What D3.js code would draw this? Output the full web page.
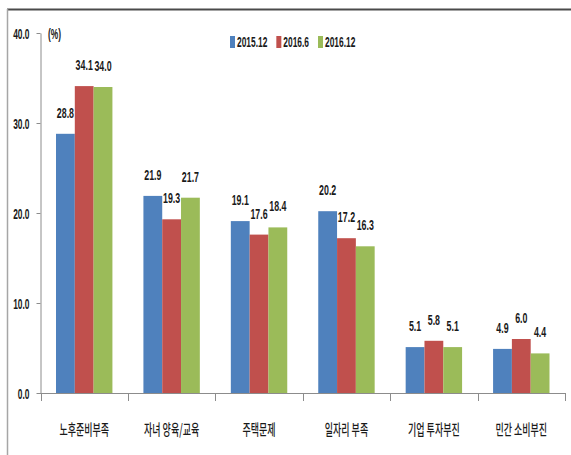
<!DOCTYPE html>
<html>
<head>
<meta charset="utf-8">
<script src="https://cdn.jsdelivr.net/npm/d3@7"></script>
<style>
html,body{margin:0;padding:0;background:#fff;}
svg{display:block;}
</style>
</head>
<body>
<svg id="chart" width="571" height="455"></svg>
<script>
const categories = ["노후준비부족", "자녀 양육/교육", "주택문제", "일자리 부족", "기업 투자부진", "민간 소비부진"];
const seriesNames = ["2015.12", "2016.6", "2016.12"];
const s2015_12 = [28.8, 21.9, 19.1, 20.2, 5.1, 4.9];
const s2016_6  = [34.1, 19.3, 17.6, 17.2, 5.8, 6.0];
const s2016_12 = [34.0, 21.7, 18.4, 16.3, 5.1, 4.4];
const yTicks = [0, 10, 20, 30, 40];
const yTickLabels = ["0.0", "10.0", "20.0", "30.0", "40.0"];
const unitLabel = "(%)";

(function () {
const seriesValues = [s2015_12, s2016_6, s2016_12];
const colors = ["#4F81BD", "#C0504D", "#9BBB59"];

const svg = d3.select("#chart");
const numFont = "'Liberation Sans', Arial, sans-serif";
const krFont = "'Noto Sans CJK KR', sans-serif";
const SX = 0.6;

// frame
svg.append("line").attr("x1", 7).attr("x2", 571).attr("y1", 9.5).attr("y2", 9.5)
  .attr("stroke", "#4a4a4a").attr("stroke-width", 2);
svg.append("line").attr("x1", 7.5).attr("x2", 7.5).attr("y1", 9).attr("y2", 455)
  .attr("stroke", "#a6a6a6").attr("stroke-width", 1.5);

const mLeft = 40.5, mRight = 565, mTop = 33, mBottom = 393;
const y = d3.scaleLinear().domain([0, 40]).range([mBottom, mTop]);
const x0 = d3.scaleBand().domain(categories).range([mLeft, mRight]).paddingInner(0).paddingOuter(0);
const pad = 15.5;
const x1 = d3.scaleBand().domain(seriesNames).range([pad, x0.bandwidth() - pad]).padding(0);

function scaledText(sel, x, yy, txt, opts) {
  return sel.append("text")
    .attr("transform", `translate(${x},${yy}) scale(${opts.sx || SX},1)`)
    .attr("font-family", opts.font || numFont)
    .attr("font-size", opts.size || 14)
    .attr("font-weight", opts.weight || "bold")
    .attr("fill", opts.fill || "#1a1a1a")
    .attr("text-anchor", opts.anchor || "middle")
    .text(txt);
}

// bars
const groups = svg.append("g").selectAll("g").data(categories).join("g")
  .attr("transform", d => `translate(${x0(d)},0)`);

groups.selectAll("rect")
  .data((c, ci) => seriesNames.map((s, si) => ({ s, si, v: seriesValues[si][ci] })))
  .join("rect")
  .attr("x", d => x1(d.s))
  .attr("width", x1.bandwidth())
  .attr("y", d => y(d.v))
  .attr("height", d => y(0) - y(d.v))
  .attr("fill", d => colors[d.si]);

// value labels
groups.each(function (c, ci) {
  const g = d3.select(this);
  seriesNames.forEach((s, si) => {
    const v = seriesValues[si][ci];
    scaledText(g, x1(s) + x1.bandwidth() / 2, y(v) - 16, v.toFixed(1), { size: 15.5, sx: 0.57 });
  });
});

// y axis
const yAxis = d3.axisLeft(y).tickValues(yTicks).tickFormat((d, i) => yTickLabels[i])
  .tickSizeInner(4).tickSizeOuter(0);
const ya = svg.append("g").attr("transform", `translate(${mLeft},0)`).call(yAxis);
ya.select(".domain").attr("stroke", "#8c8c8c");
ya.selectAll(".tick line").attr("stroke", "#8c8c8c");
ya.selectAll(".tick text")
  .attr("font-family", numFont).attr("font-size", 14).attr("font-weight", "bold").attr("fill", "#1a1a1a")
  .attr("x", 0).attr("dy", null)
  .attr("transform", `translate(-11,5) scale(${SX},1)`);

// x axis line and boundary ticks
const xa = svg.append("g");
xa.append("line").attr("x1", mLeft - 3.5).attr("x2", mRight).attr("y1", mBottom + 0.5).attr("y2", mBottom + 0.5)
  .attr("stroke", "#8c8c8c");
const bounds = categories.map(c => x0(c)).concat([x0.range()[1]]);
xa.selectAll("line.b").data(bounds).join("line").attr("class", "b")
  .attr("x1", d => Math.round(d) + 0.5).attr("x2", d => Math.round(d) + 0.5)
  .attr("y1", mBottom).attr("y2", mBottom + 8)
  .attr("stroke", "#8c8c8c");

// category labels
categories.forEach(c => {
  scaledText(svg, x0(c) + x0.bandwidth() / 2, 435, c, { font: krFont, size: 15, sx: 0.6, weight: 500 });
});

// unit label
scaledText(svg, 48, 39, unitLabel, { anchor: "start", size: 14 });

// legend
const lg = svg.append("g");
let lx = 230;
seriesNames.forEach((s, i) => {
  lg.append("rect").attr("x", lx).attr("y", 36).attr("width", 5).attr("height", 12).attr("fill", colors[i]);
  const t = scaledText(lg, lx + 7, 47, s, { anchor: "start", size: 14 });
  const w = t.node().getComputedTextLength() * SX;
  lx = lx + 7 + w + 9;
});
})();
</script>
</body>
</html>
